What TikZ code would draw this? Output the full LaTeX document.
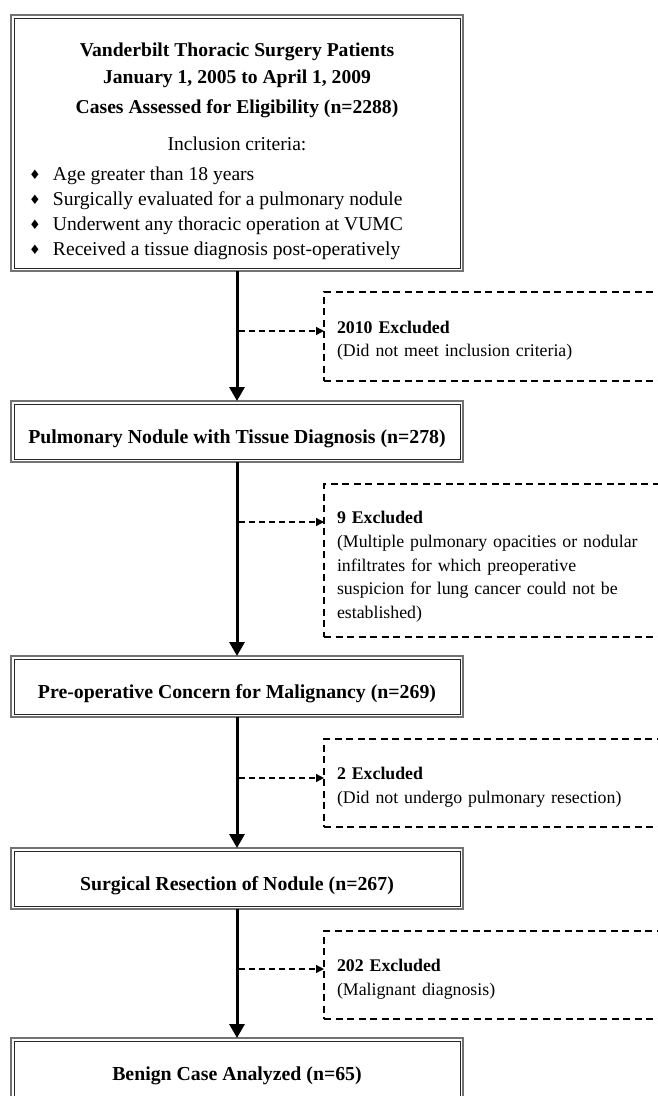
\documentclass[tikz,border=0pt]{standalone}
\usepackage{fontspec}
\setmainfont{Liberation Serif}
\newfontfamily\symfont{DejaVu Sans}
\usetikzlibrary{arrows.meta,calc}
\newcommand{\diabul}{\makebox[24pt][l]{\raisebox{1pt}{\symfont\fontsize{13}{13}\selectfont ♦}}}
\begin{document}
\begin{tikzpicture}[x=1pt,y=-1pt,
  every node/.style={inner sep=0pt, outer sep=0pt},
  boxfont/.style={font=\fontsize{19.6}{24}\selectfont},
  boldline/.style={anchor=base, font=\fontsize{19.6}{24}\selectfont\bfseries},
  mainbox/.style={draw=black!55, line width=2.2pt, minimum width=452pt,
    font=\fontsize{19.8}{24}\selectfont\bfseries, text height=24pt, text depth=0pt,
    path picture={\draw[black!85, line width=1pt]
      ([shift={(3pt,-3pt)}]path picture bounding box.north west) rectangle
      ([shift={(-3pt,3pt)}]path picture bounding box.south east);}},
  exbox/.style={draw=black, line width=1.3pt, dash pattern=on 7pt off 4.5pt,
    anchor=north west, text width=370pt, inner xsep=13pt, align=left,
    font=\fontsize{17.8}{23.7}\selectfont,
    execute at begin node={\rule{0pt}{#1}}},
  exbox/.default=20.5pt,
  flow/.style={line width=3pt, -{Triangle[length=14pt,width=15pt]}},
  exarrow/.style={line width=1.3pt, dash pattern=on 6pt off 4pt, -{Triangle[length=8pt,width=8pt]}}]

\useasboundingbox (0,0) rectangle (658,1096);
\clip (0,0) rectangle (658,1096);
\fill[white] (0,0) rectangle (658,1096);

% main boxes
\node[mainbox, minimum height=256pt] (b1) at (237,143) {};
\node[mainbox, minimum height=61pt] (b2) at (237,431.5) {Pulmonary Nodule with Tissue Diagnosis (n=278)};
\node[mainbox, minimum height=61pt] (b3) at (237,686.5) {Pre-operative Concern for Malignancy (n=269)};
\node[mainbox, minimum height=61pt] (b4) at (237,878.5) {Surgical Resection of Nodule (n=267)};
\node[mainbox, minimum height=61pt] (b5) at (237,1068.5) {Benign Case Analyzed (n=65)};

% text of the first box
\node[boldline] (t1) at (237,56.7) {Vanderbilt Thoracic Surgery Patients};
\node[boldline] (t2) at (237,83.3) {January 1, 2005 to April 1, 2009};
\node[boldline] (t3) at (237,113.3) {Cases Assessed for Eligibility (n=2288)};
\node[boxfont, anchor=base] (t4) at (237,150) {Inclusion criteria:};
\node[anchor=base west, align=left, font=\fontsize{19.6}{25}\selectfont] (t5) at (29,255)
  {\diabul Age greater than 18 years\\
   \diabul Surgically evaluated for a pulmonary nodule\\
   \diabul Underwent any thoracic operation at VUMC\\
   \diabul Received a tissue diagnosis post-operatively};

% exclusion boxes
\node[exbox, minimum height=89pt] (e1) at (324,292)
  {\textbf{2010 Excluded}\\(Did not meet inclusion criteria)};
\node[exbox=25pt, minimum height=153pt] (e2) at (324,484)
  {\textbf{9 Excluded}\\(Multiple pulmonary opacities or nodular\\infiltrates for which preoperative\\suspicion for lung cancer could not be\\established)};
\node[exbox, minimum height=88pt] (e3) at (324,739)
  {\textbf{2 Excluded}\\(Did not undergo pulmonary resection)};
\node[exbox, minimum height=88pt] (e4) at (324,931)
  {\textbf{202 Excluded}\\(Malignant diagnosis)};

% main flow
\draw[flow] (b1.south) -- (b2.north);
\draw[flow] (b2.south) -- (b3.north);
\draw[flow] (b3.south) -- (b4.north);
\draw[flow] (b4.south) -- (b5.north);

% side arrows
\coordinate (j1) at (238.5,331);
\coordinate (j2) at (238.5,522);
\coordinate (j3) at (238.5,778);
\coordinate (j4) at (238.5,969);
\draw[exarrow] (j1) -- (j1 -| e1.west);
\draw[exarrow] (j2) -- (j2 -| e2.west);
\draw[exarrow] (j3) -- (j3 -| e3.west);
\draw[exarrow] (j4) -- (j4 -| e4.west);
\end{tikzpicture}
\end{document}
